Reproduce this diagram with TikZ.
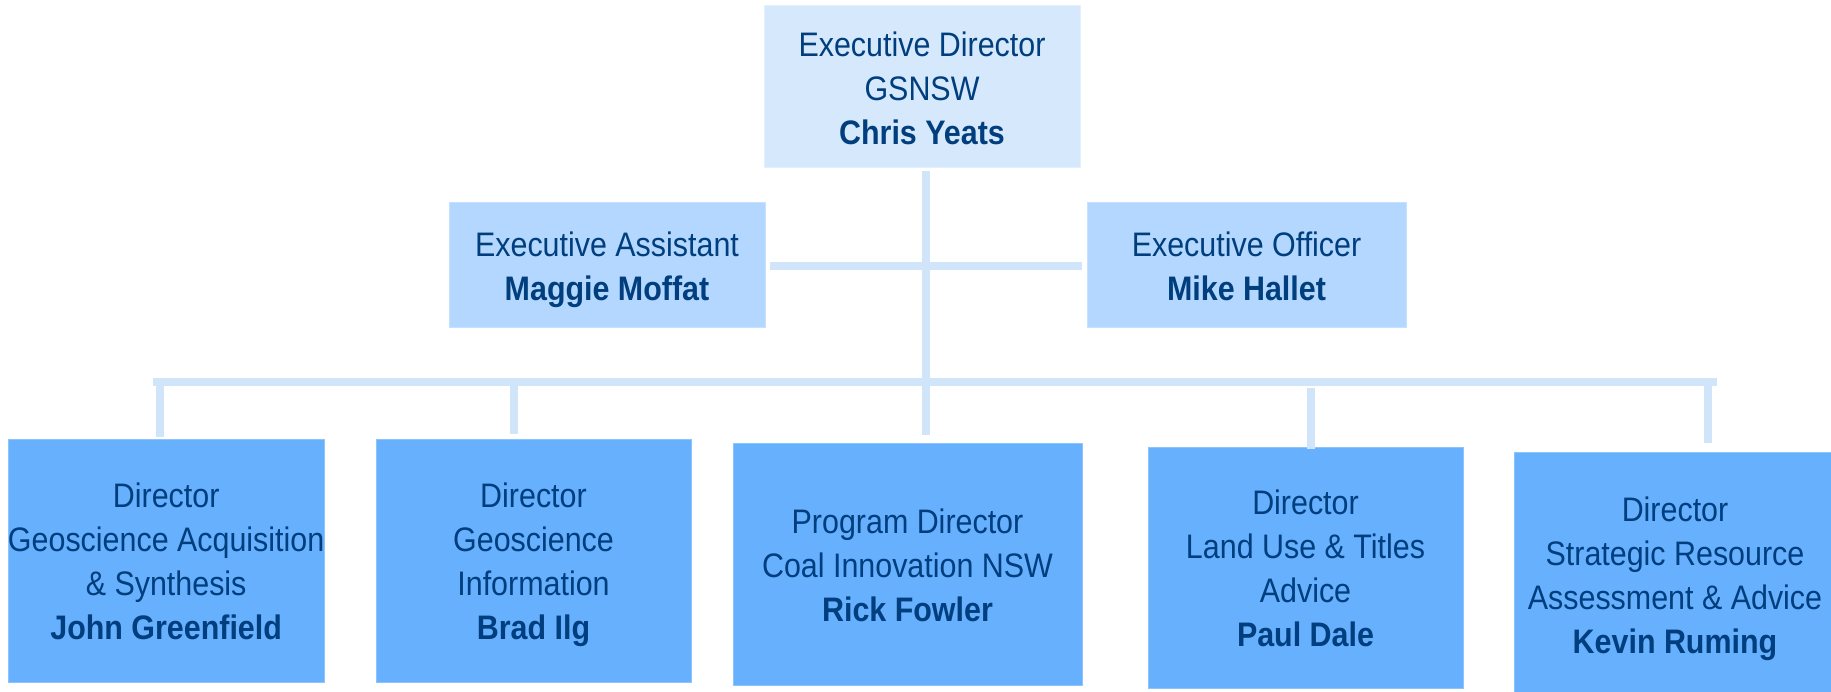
\documentclass[tikz,border=0pt]{standalone}
\usepackage{fontspec}
\setmainfont{Liberation Sans}
\usepackage{graphicx}
\definecolor{topfill}{HTML}{D5E8FC}
\definecolor{midfill}{HTML}{B3D7FE}
\definecolor{botfill}{HTML}{66B0FE}
\definecolor{topedge}{HTML}{E2F0FE}
\definecolor{midedge}{HTML}{C6E1FE}
\definecolor{botedge}{HTML}{8CC4FE}
\definecolor{linec}{HTML}{D0E5F9}
\definecolor{txt}{HTML}{003E7E}
\newcommand{\boxtext}[1]{\raisebox{-4.5pt}[\height][\depth]{\scalebox{0.895}[1]{\begin{tabular}{@{}c@{}}#1\end{tabular}}}}
\tikzset{
  box/.style={anchor=north west, inner sep=0pt, outer sep=0pt, text=txt,
    line width=1pt, font=\fontsize{34}{44}\selectfont},
  lvltop/.style={box, fill=topfill, draw=topedge},
  lvlmid/.style={box, fill=midfill, draw=midedge},
  lvlbot/.style={box, fill=botfill, draw=botedge},
  conn/.style={draw=linec, line width=8pt},
}
\begin{document}
\begin{tikzpicture}[x=1pt,y=-1pt]
\useasboundingbox (0,0) rectangle (1831,692);
\begin{scope}
\clip (0,0) rectangle (1831,692);
% connector end points
\coordinate (vtop) at (925.5,171);
\coordinate (vbot) at (925.5,435);
\coordinate (hL) at (770,266);
\coordinate (hR) at (1082,266);
\coordinate (busL) at (153,382);
\coordinate (busR) at (1717,382);
\coordinate (d1a) at (159.5,382); \coordinate (d1b) at (159.5,437);
\coordinate (d2a) at (514,382);   \coordinate (d2b) at (514,434);
\coordinate (d4a) at (1310.5,388); \coordinate (d4b) at (1310.5,449);
\coordinate (d5a) at (1708,382);  \coordinate (d5b) at (1708,443);

% nodes
\node[lvltop, minimum width=316, minimum height=162] (top) at (764,6)
  {\boxtext{Executive Director\\GSNSW\\\textbf{Chris Yeats}}};
\node[lvlmid, minimum width=316, minimum height=125] (ea) at (449,203)
  {\boxtext{Executive Assistant\\\textbf{Maggie Moffat}}};
\node[lvlmid, minimum width=319, minimum height=125] (eo) at (1087,203)
  {\boxtext{Executive Officer\\\textbf{Mike Hallet}}};
\node[lvlbot, minimum width=316, minimum height=243] (b1) at (8,439)
  {\boxtext{Director\\Geoscience Acquisition\\\& Synthesis\\\textbf{John Greenfield}}};
\node[lvlbot, minimum width=315, minimum height=243] (b2) at (376,439)
  {\boxtext{Director\\Geoscience\\Information\\\textbf{Brad Ilg}}};
\node[lvlbot, minimum width=349, minimum height=242] (b3) at (733,443)
  {\boxtext{Program Director\\Coal Innovation NSW\\\textbf{Rick Fowler}}};
\node[lvlbot, minimum width=315, minimum height=241] (b4) at (1148,447)
  {\boxtext{Director\\Land Use \& Titles\\Advice\\\textbf{Paul Dale}}};
\node[lvlbot, minimum width=322, minimum height=245] (b5) at (1514,452)
  {\boxtext{Director\\Strategic Resource\\Assessment \& Advice\\\textbf{Kevin Ruming}}};

\draw[conn] (vtop) -- (vbot);
\draw[conn] (hL) -- (hR);
\draw[conn] (busL) -- (busR);
\draw[conn] (d1a) -- (d1b);
\draw[conn] (d2a) -- (d2b);
\draw[conn] (d4a) -- (d4b);
\draw[conn] (d5a) -- (d5b);
\end{scope}
\end{tikzpicture}
\end{document}
